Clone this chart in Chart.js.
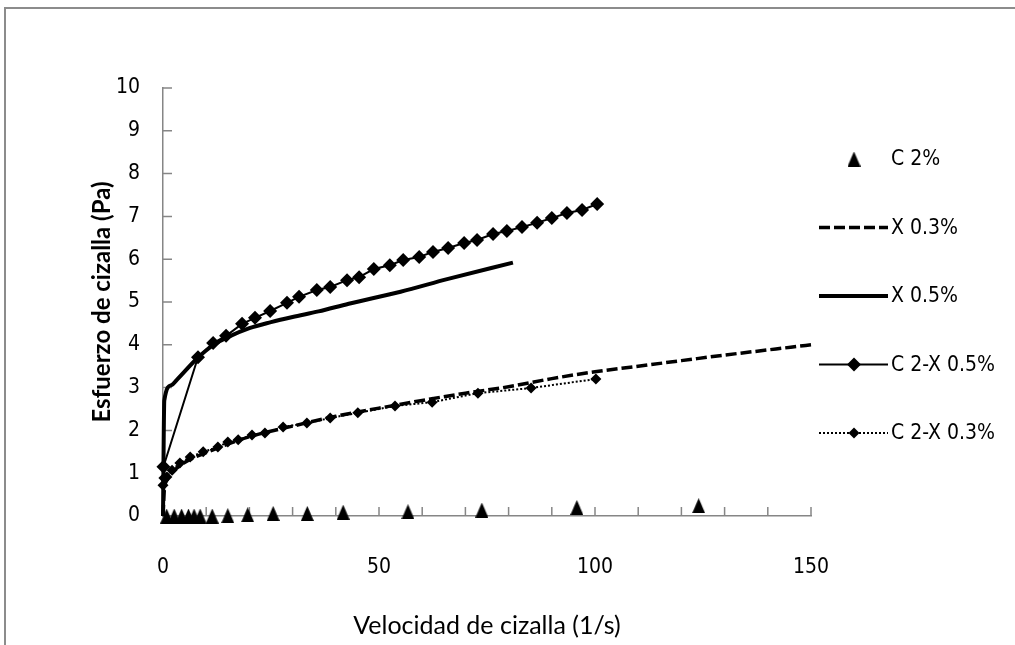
<!DOCTYPE html>
<html>
<head>
<meta charset="utf-8">
<script src="https://cdn.jsdelivr.net/npm/chart.js@4.4.0/dist/chart.umd.min.js"></script>
<style>
  html, body { margin: 0; padding: 0; background: #fff; overflow: hidden; }
  #frame { position: absolute; left: 4px; top: 7px; width: 1100px; height: 700px; border: 2px solid #8c8c8c; box-sizing: border-box; }
  #chart { position: absolute; left: 0; top: 0; }
</style>
</head>
<body>
<div id="frame"></div>
<canvas id="chart" width="1015" height="645"></canvas>
<script>
// shear rate (1/s) and shear stress (Pa) per sample
const c2X   = [0.85, 2.6, 4.3, 5.9, 7.2, 8.6, 11.4, 15.0, 19.6, 25.5, 33.4, 41.7, 56.7, 73.8, 95.8, 124];
const c2Y   = [0, 0, 0, 0, 0, 0, 0, 0.01, 0.03, 0.06, 0.06, 0.09, 0.1, 0.14, 0.2, 0.24];

const x03X  = [0, 0.3, 1, 2, 5, 10, 20, 30, 40, 50, 60, 70, 80, 90, 100, 110, 120, 130, 140, 150];
const x03Y  = [0, 0.6, 0.85, 1.0, 1.25, 1.48, 1.85, 2.1, 2.33, 2.52, 2.7, 2.87, 3.02, 3.21, 3.37, 3.5, 3.63, 3.76, 3.88, 4.0];

const x05X  = [0, 0.3, 2, 3.2, 8, 12, 15, 20, 25, 30, 36, 43, 55, 66, 81];
const x05Y  = [0, 2.7, 3.06, 3.18, 3.69, 4.02, 4.18, 4.39, 4.53, 4.65, 4.78, 4.96, 5.24, 5.54, 5.92];

const c2x05X = [0.1, 8.1, 11.6, 14.6, 18.3, 21.3, 24.8, 28.7, 31.5, 35.6, 38.7, 42.6, 45.4, 48.8, 52.5,
                55.6, 59.3, 62.5, 66.0, 69.7, 72.7, 76.4, 79.6, 83.1, 86.6, 90.0, 93.5, 97.0, 100.5];
const c2x05Y = [1.15, 3.71, 4.04, 4.21, 4.49, 4.63, 4.79, 4.98, 5.12, 5.28, 5.35, 5.51, 5.58, 5.77, 5.86,
                5.98, 6.05, 6.17, 6.26, 6.38, 6.45, 6.59, 6.66, 6.75, 6.85, 6.96, 7.08, 7.15, 7.29];

const c2x03X = [0, 0.2, 0.9, 2.1, 3.9, 6.3, 9.3, 12.7, 15.0, 17.4, 20.6, 23.6, 27.8, 33.3, 38.7, 45.1, 53.7, 62.3, 72.9, 85.2, 100.2];
const c2x03Y = [0.72, 0.89, 0.91, 1.07, 1.24, 1.38, 1.50, 1.61, 1.73, 1.78, 1.89, 1.94, 2.08, 2.17, 2.29, 2.41, 2.57, 2.66, 2.87, 2.99, 3.2];

const yTicks = [0, 10];      // min / max of stress axis
const xTicks = [0, 150, 10]; // min / max / minor step of rate axis

const AXIS_GREY = '#868686';
const FONT = "'Liberation Sans Narrow', 'DejaVu Sans Condensed', sans-serif";
const TITLE_FONT = "Lato, 'Open Sans', sans-serif";

function pts(xs, ys) { return xs.map((x, i) => ({ x, y: ys[i] })); }

// tall triangle marker, like the spreadsheet one
const tri = document.createElement('canvas');
tri.width = 13; tri.height = 15;
(function () {
  const c = tri.getContext('2d');
  c.fillStyle = '#000';
  c.beginPath();
  c.moveTo(6.5, 0); c.lineTo(13, 15); c.lineTo(0, 15);
  c.closePath(); c.fill();
})();

// inward tick marks on both axes
const innerTicks = {
  id: 'innerTicks',
  beforeDatasetsDraw(chart) {
    const { ctx, chartArea, scales } = chart;
    ctx.save();
    ctx.strokeStyle = AXIS_GREY;
    ctx.lineWidth = 1.5;
    ctx.beginPath();
    scales.y.ticks.forEach(t => {
      const y = scales.y.getPixelForValue(t.value);
      ctx.moveTo(chartArea.left, y); ctx.lineTo(chartArea.left + 9, y);
    });
    scales.x.ticks.forEach(t => {
      const x = scales.x.getPixelForValue(t.value);
      ctx.moveTo(x, chartArea.bottom); ctx.lineTo(x, chartArea.bottom - 9);
    });
    ctx.stroke();
    ctx.restore();
  }
};

// legend column on the right
const sideLegend = {
  id: 'sideLegend',
  afterDraw(chart) {
    const ctx = chart.ctx;
    const top = 159, gap = 68.5;
    const x0 = 819, x1 = 888, xm = 854, xt = 891;
    chart.data.datasets.forEach((ds, i) => {
      const y = top + i * gap;
      ctx.save();
      ctx.strokeStyle = '#000';
      ctx.fillStyle = '#000';
      if (ds.showLine) {
        ctx.lineWidth = ds.borderWidth;
        ctx.setLineDash(ds.borderDash || []);
        ctx.beginPath();
        ctx.moveTo(x0, y); ctx.lineTo(x1, y);
        ctx.stroke();
        ctx.setLineDash([]);
      }
      if (ds.pointRadius > 0) {
        Chart.helpers.drawPoint(ctx, { pointStyle: ds.pointStyle, radius: ds.pointRadius, rotation: 0, borderWidth: 0 }, xm, y);
      }
      ctx.font = '21px ' + FONT;
      ctx.textBaseline = 'middle';
      ctx.textAlign = 'left';
      ctx.fillText(ds.label, xt, y + 1);
      ctx.restore();
    });
  }
};

new Chart(document.getElementById('chart'), {
  type: 'scatter',
  data: {
    datasets: [
      { label: 'C 2%', data: pts(c2X, c2Y), showLine: false,
        pointStyle: tri, pointRadius: 7, pointHoverRadius: 7,
        backgroundColor: '#000', borderColor: '#000', clip: false },
      { label: 'X 0.3%', data: pts(x03X, x03Y), showLine: true,
        borderColor: '#000', borderWidth: 3.5, borderDash: [11, 4],
        pointRadius: 0, cubicInterpolationMode: 'monotone', clip: false },
      { label: 'X 0.5%', data: pts(x05X, x05Y), showLine: true,
        borderColor: '#000', borderWidth: 4,
        pointRadius: 0, cubicInterpolationMode: 'monotone', clip: false },
      { label: 'C 2-X 0.5%', data: pts(c2x05X, c2x05Y), showLine: true,
        borderColor: '#000', backgroundColor: '#000', borderWidth: 2,
        pointStyle: 'rectRot', pointRadius: 7, pointBorderWidth: 0, clip: false },
      { label: 'C 2-X 0.3%', data: pts(c2x03X, c2x03Y), showLine: true,
        borderColor: '#000', backgroundColor: '#000', borderWidth: 2, borderDash: [2, 2],
        pointStyle: 'rectRot', pointRadius: 5.5, pointBorderWidth: 0, clip: false }
    ]
  },
  options: {
    responsive: false,
    animation: false,
    layout: { padding: { left: 66, top: 88, right: 204, bottom: 0 } },
    plugins: { legend: { display: false }, tooltip: { enabled: false } },
    scales: {
      x: {
        type: 'linear', min: xTicks[0], max: xTicks[1],
        border: { color: AXIS_GREY, width: 1.5 },
        grid: { display: true, drawOnChartArea: false, drawTicks: false },
        ticks: {
          stepSize: xTicks[2], autoSkip: false, maxRotation: 0, padding: 39,
          color: '#000', font: { family: FONT, size: 21 },
          callback: v => (v % 50 === 0 ? v : '')
        },
        title: {
          display: true, text: 'Velocidad de cizalla (1/s)', color: '#000',
          font: { family: TITLE_FONT, size: 25 }, padding: { top: 0, bottom: 4 }
        },
        afterFit(scale) { scale.height = 129; }
      },
      y: {
        type: 'linear', min: yTicks[0], max: yTicks[1],
        border: { color: AXIS_GREY, width: 1.5 },
        grid: { display: true, drawOnChartArea: false, drawTicks: false },
        ticks: {
          stepSize: 1, padding: 23,
          color: '#000', font: { family: FONT, size: 21 }
        },
        title: {
          display: true, text: 'Esfuerzo de cizalla (Pa)', color: '#000',
          font: { family: TITLE_FONT, size: 24, weight: 'bold' }, padding: { top: 22, bottom: 0 }
        },
        afterFit(scale) { scale.width = 97; }
      }
    }
  },
  plugins: [innerTicks, sideLegend]
});
</script>
</body>
</html>
